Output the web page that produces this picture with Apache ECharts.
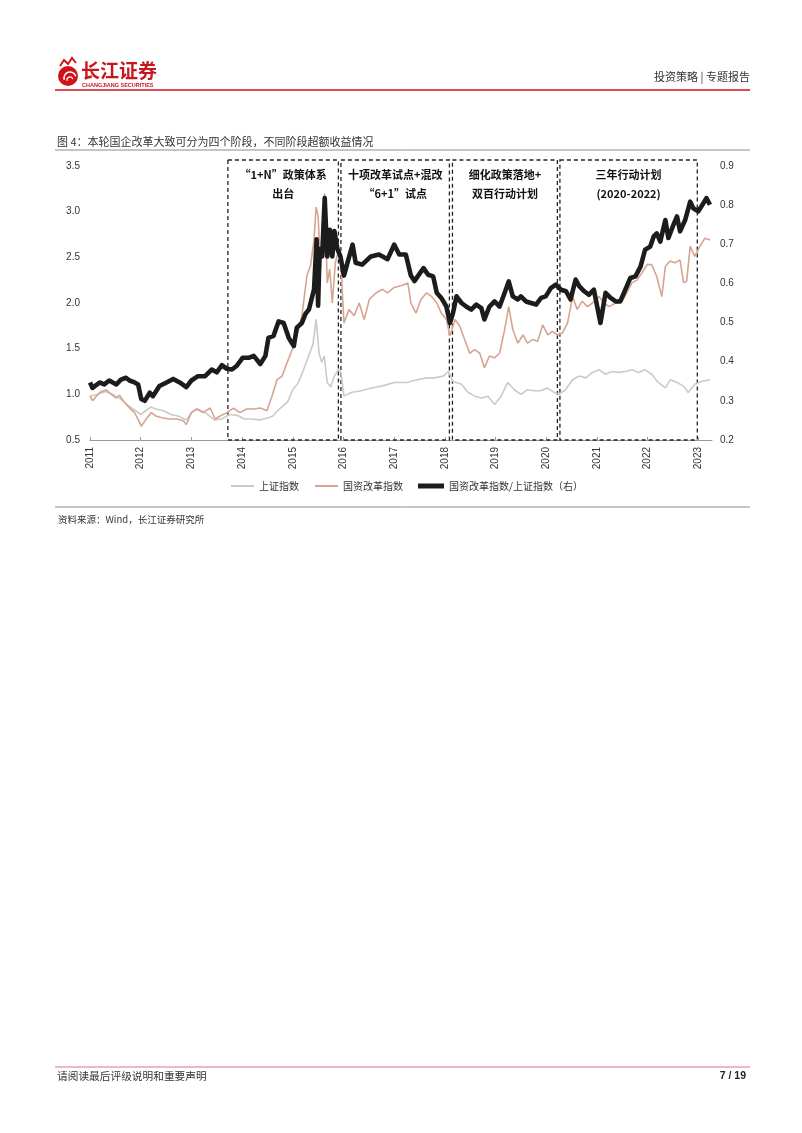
<!DOCTYPE html>
<html>
<head>
<meta charset="utf-8">
<script src="https://cdn.jsdelivr.net/npm/echarts@6/dist/echarts.min.js"></script>
<style>
html,body{margin:0;padding:0;background:#fff;}
#chart{width:802px;height:1133px;}
</style>
</head>
<body>
<div id="chart"></div>
<script>
// ---- data ----
const xTicks = [2011,2012,2013,2014,2015,2016,2017,2018,2019,2020,2021,2022,2023];
const leftTicks = [0.5,1.0,1.5,2.0,2.5,3.0,3.5];
const rightTicks = [0.2,0.3,0.4,0.5,0.6,0.7,0.8,0.9];

// 上证指数 (left axis)
const shIndex = [
[2011.00,0.98],[2011.15,1.00],[2011.30,1.03],[2011.45,1.00],[2011.60,0.95],[2011.75,0.88],[2011.90,0.82],[2012.00,0.78],
[2012.10,0.82],[2012.20,0.86],[2012.30,0.84],[2012.45,0.82],[2012.60,0.78],[2012.75,0.76],[2012.90,0.72],[2013.00,0.80],
[2013.12,0.84],[2013.30,0.79],[2013.45,0.72],[2013.60,0.73],[2013.75,0.78],[2013.90,0.77],[2014.05,0.73],[2014.20,0.73],
[2014.35,0.72],[2014.50,0.74],[2014.60,0.76],[2014.70,0.82],[2014.80,0.87],[2014.90,0.92],[2015.00,1.05],[2015.10,1.12],
[2015.20,1.25],[2015.30,1.40],[2015.40,1.55],[2015.46,1.82],[2015.52,1.45],[2015.57,1.35],[2015.62,1.42],[2015.68,1.13],
[2015.75,1.08],[2015.82,1.20],[2015.90,1.27],[2015.95,1.24],[2016.01,0.98],[2016.15,1.02],[2016.35,1.04],[2016.55,1.07],
[2016.75,1.09],[2017.00,1.13],[2017.25,1.13],[2017.45,1.16],[2017.65,1.18],[2017.80,1.18],[2017.97,1.20],[2018.07,1.25],
[2018.16,1.14],[2018.33,1.11],[2018.46,1.02],[2018.59,0.98],[2018.72,0.96],[2018.85,0.98],[2018.98,0.89],[2019.11,0.98],
[2019.24,1.13],[2019.37,1.05],[2019.50,1.00],[2019.63,1.05],[2019.76,1.04],[2019.89,1.04],[2020.02,1.07],[2020.16,1.02],
[2020.25,1.00],[2020.38,1.05],[2020.52,1.16],[2020.65,1.20],[2020.78,1.18],[2020.91,1.24],[2021.04,1.27],[2021.17,1.22],
[2021.30,1.25],[2021.43,1.24],[2021.56,1.25],[2021.69,1.27],[2021.82,1.24],[2021.95,1.27],[2022.08,1.22],[2022.21,1.13],
[2022.35,1.07],[2022.45,1.16],[2022.58,1.13],[2022.71,1.09],[2022.80,1.02],[2022.93,1.11],[2023.06,1.14],[2023.23,1.16]
];

// 国资改革指数 (left axis)
const soeIndex = [
[2011.00,0.98],[2011.05,0.93],[2011.19,1.02],[2011.32,1.05],[2011.42,1.00],[2011.52,0.96],[2011.58,0.99],[2011.68,0.91],
[2011.78,0.85],[2011.88,0.80],[2011.98,0.69],[2012.01,0.65],[2012.11,0.73],[2012.21,0.80],[2012.31,0.76],[2012.44,0.74],
[2012.57,0.73],[2012.71,0.73],[2012.84,0.71],[2012.90,0.67],[2013.00,0.80],[2013.10,0.84],[2013.23,0.80],[2013.37,0.85],
[2013.47,0.73],[2013.56,0.76],[2013.70,0.80],[2013.83,0.85],[2013.96,0.80],[2014.09,0.84],[2014.23,0.84],[2014.36,0.85],
[2014.49,0.82],[2014.59,0.98],[2014.69,1.16],[2014.79,1.20],[2014.89,1.35],[2014.99,1.49],[2015.08,1.64],[2015.18,1.86],
[2015.28,2.30],[2015.35,2.41],[2015.42,2.70],[2015.46,3.05],[2015.50,2.95],[2015.55,2.37],[2015.60,2.99],[2015.63,3.20],
[2015.68,2.22],[2015.73,2.37],[2015.78,2.00],[2015.84,2.44],[2015.89,2.55],[2015.94,2.51],[2016.01,1.78],[2016.11,1.93],
[2016.21,1.86],[2016.31,2.00],[2016.41,1.82],[2016.51,2.04],[2016.64,2.11],[2016.77,2.15],[2016.87,2.11],[2017.00,2.17],
[2017.13,2.19],[2017.27,2.22],[2017.33,2.00],[2017.43,1.89],[2017.53,2.04],[2017.64,2.11],[2017.74,2.07],[2017.84,2.00],
[2017.93,1.89],[2018.03,1.82],[2018.10,1.64],[2018.20,1.82],[2018.29,1.75],[2018.39,1.60],[2018.49,1.45],[2018.59,1.49],
[2018.69,1.45],[2018.78,1.29],[2018.88,1.42],[2018.98,1.40],[2019.08,1.45],[2019.18,1.71],[2019.26,1.96],[2019.34,1.71],
[2019.44,1.56],[2019.54,1.65],[2019.63,1.56],[2019.73,1.60],[2019.83,1.58],[2019.93,1.76],[2020.03,1.65],[2020.12,1.69],
[2020.22,1.65],[2020.32,1.67],[2020.42,1.78],[2020.52,2.07],[2020.61,1.93],[2020.71,2.02],[2020.81,1.96],[2020.91,2.00],
[2021.04,2.07],[2021.14,2.00],[2021.24,1.96],[2021.37,2.00],[2021.50,2.02],[2021.59,2.11],[2021.69,2.22],[2021.79,2.25],
[2021.89,2.33],[2021.99,2.42],[2022.08,2.42],[2022.18,2.29],[2022.28,2.07],[2022.35,2.40],[2022.44,2.46],[2022.54,2.44],
[2022.64,2.47],[2022.71,2.22],[2022.77,2.24],[2022.84,2.62],[2022.93,2.51],[2023.03,2.62],[2023.13,2.71],[2023.23,2.69]
];

// 国资改革指数/上证指数 (right axis)
const ratio = [
[2011.00,0.347],[2011.05,0.333],[2011.19,0.347],[2011.28,0.342],[2011.38,0.352],[2011.52,0.342],[2011.61,0.354],[2011.71,0.359],
[2011.78,0.352],[2011.88,0.347],[2011.95,0.342],[2012.01,0.305],[2012.08,0.300],[2012.18,0.321],[2012.24,0.312],[2012.37,0.338],
[2012.51,0.347],[2012.64,0.356],[2012.77,0.347],[2012.90,0.335],[2013.00,0.352],[2013.13,0.363],[2013.27,0.363],[2013.40,0.380],
[2013.50,0.373],[2013.60,0.391],[2013.70,0.382],[2013.80,0.380],[2013.89,0.389],[2014.01,0.410],[2014.13,0.410],[2014.23,0.415],
[2014.36,0.394],[2014.46,0.415],[2014.52,0.461],[2014.62,0.466],[2014.72,0.503],[2014.82,0.499],[2014.92,0.461],[2015.02,0.440],
[2015.08,0.487],[2015.18,0.499],[2015.25,0.522],[2015.32,0.534],[2015.42,0.585],[2015.47,0.713],[2015.50,0.543],[2015.53,0.688],
[2015.58,0.669],[2015.63,0.818],[2015.68,0.669],[2015.73,0.737],[2015.78,0.669],[2015.82,0.734],[2015.88,0.688],[2015.94,0.669],
[2016.01,0.620],[2016.08,0.653],[2016.18,0.699],[2016.24,0.653],[2016.37,0.648],[2016.54,0.669],[2016.70,0.674],[2016.87,0.662],
[2017.00,0.699],[2017.10,0.674],[2017.23,0.674],[2017.33,0.620],[2017.40,0.606],[2017.53,0.630],[2017.58,0.639],[2017.67,0.622],
[2017.77,0.618],[2017.84,0.576],[2017.93,0.563],[2018.03,0.541],[2018.10,0.499],[2018.16,0.524],[2018.23,0.567],[2018.33,0.550],
[2018.42,0.541],[2018.52,0.533],[2018.62,0.546],[2018.72,0.537],[2018.78,0.508],[2018.88,0.541],[2018.98,0.554],[2019.08,0.541],
[2019.18,0.576],[2019.26,0.605],[2019.34,0.567],[2019.44,0.559],[2019.50,0.567],[2019.60,0.554],[2019.70,0.550],[2019.80,0.546],
[2019.90,0.563],[2019.99,0.567],[2020.09,0.588],[2020.19,0.597],[2020.29,0.584],[2020.39,0.580],[2020.48,0.559],[2020.58,0.610],
[2020.65,0.593],[2020.75,0.580],[2020.84,0.571],[2020.94,0.584],[2021.07,0.499],[2021.17,0.576],[2021.27,0.563],[2021.37,0.554],
[2021.46,0.554],[2021.56,0.584],[2021.66,0.614],[2021.76,0.618],[2021.86,0.643],[2021.95,0.686],[2022.05,0.694],[2022.12,0.720],
[2022.18,0.728],[2022.25,0.707],[2022.35,0.762],[2022.41,0.716],[2022.51,0.750],[2022.58,0.771],[2022.64,0.733],[2022.74,0.762],
[2022.84,0.809],[2022.90,0.792],[2023.00,0.784],[2023.10,0.805],[2023.16,0.818],[2023.23,0.801]
];

// policy phases (dashed boxes)
const phaseStart = [2013.72, 2015.95, 2018.15, 2020.27];
const phaseEnd   = [2015.90, 2018.09, 2020.22, 2022.98];
const phaseLabels = ['“1+N”政策体系\n出台', '十项改革试点+混改\n“6+1”试点', '细化政策落地+\n双百行动计划', '三年行动计划\n(2020-2022)'];

const seriesNames = ['上证指数', '国资改革指数', '国资改革指数/上证指数（右）'];

// ---- chart ----
const FONT = '"Liberation Sans", Arial, "Noto Sans CJK SC", sans-serif';
const CJK = '"Noto Sans CJK SC", "Liberation Sans", sans-serif';
const chart = echarts.init(document.getElementById('chart'), null, {renderer: 'canvas'});

const phaseData = phaseStart.map((s, i) => [s, phaseEnd[i], i]);
const legendText = {fontSize: 10, color: '#333', fontFamily: CJK};

const option = {
  backgroundColor: '#ffffff',
  animation: false,
  textStyle: {fontFamily: FONT},
  grid: {left: 90, top: 166, width: 622, height: 274, containLabel: false},
  xAxis: {
    type: 'value', min: 2011, max: 2023.27, interval: 1,
    axisLine: {show: true, lineStyle: {color: '#9a9a9a', width: 1}},
    axisTick: {show: true, inside: true, length: 3, lineStyle: {color: '#9a9a9a'}},
    splitLine: {show: false},
    axisLabel: {
      rotate: 90, margin: 7, fontSize: 10, color: '#333', fontFamily: FONT,
      showMaxLabel: false,
      formatter: v => (xTicks.indexOf(Math.round(v)) >= 0 && Math.abs(v - Math.round(v)) < 1e-6) ? String(Math.round(v)) : ''
    }
  },
  yAxis: [
    {
      type: 'value', min: leftTicks[0], max: leftTicks[leftTicks.length - 1], interval: 0.5,
      axisLine: {show: false}, axisTick: {show: false}, splitLine: {show: false},
      axisLabel: {fontSize: 10, color: '#333', margin: 10, fontFamily: FONT, formatter: v => v.toFixed(1)}
    },
    {
      type: 'value', position: 'right', min: rightTicks[0], max: rightTicks[rightTicks.length - 1], interval: 0.1,
      axisLine: {show: false}, axisTick: {show: false}, splitLine: {show: false},
      axisLabel: {fontSize: 10, color: '#333', margin: 8, fontFamily: FONT, formatter: v => v.toFixed(1)}
    }
  ],
  legend: [
    {data: [seriesNames[0]], left: 231, top: 481, padding: 0, icon: 'rect', itemWidth: 23, itemHeight: 2, textStyle: legendText},
    {data: [seriesNames[1]], left: 315, top: 481, padding: 0, icon: 'rect', itemWidth: 23, itemHeight: 2, textStyle: legendText},
    {data: [seriesNames[2]], left: 418, top: 481, padding: 0, icon: 'rect', itemWidth: 26, itemHeight: 5, textStyle: legendText}
  ],
  series: [
    {
      type: 'custom', name: 'phases', xAxisIndex: 0, yAxisIndex: 0, z: 1, silent: true,
      data: phaseData, encode: {x: [0, 1]},
      renderItem: function (params, api) {
        const x1 = api.coord([api.value(0), 0.5])[0];
        const x2 = api.coord([api.value(1), 0.5])[0];
        const yb = api.coord([2011, 0.5])[1];
        const yt = params.coordSys.y - 6;
        const idx = api.value(2);
        return {
          type: 'group',
          children: [
            {type: 'rect', shape: {x: x1, y: yt, width: x2 - x1, height: yb - yt},
             style: {fill: 'none', stroke: '#222', lineWidth: 1.3, lineDash: [4, 3]}},
            {type: 'text', style: {text: phaseLabels[idx], x: (x1 + x2) / 2, y: yt + 5,
              align: 'center', verticalAlign: 'top', fill: '#111',
              font: 'bold 11px "Noto Sans CJK SC", "Liberation Sans", sans-serif', lineHeight: 19}}
          ]
        };
      }
    },
    {name: seriesNames[0], type: 'line', yAxisIndex: 0, data: shIndex, showSymbol: false, symbol: 'none', z: 2,
     lineStyle: {color: '#cacaca', width: 1.6}, itemStyle: {color: '#cacaca'}},
    {name: seriesNames[1], type: 'line', yAxisIndex: 0, data: soeIndex, showSymbol: false, symbol: 'none', z: 3,
     lineStyle: {color: '#d6a590', width: 1.6}, itemStyle: {color: '#d6a590'}},
    {name: seriesNames[2], type: 'line', yAxisIndex: 1, data: ratio, showSymbol: false, symbol: 'none', z: 4,
     lineStyle: {color: '#1c1c1c', width: 4.6, join: 'round'}, itemStyle: {color: '#1c1c1c'}}
  ],
  graphic: [
    // logo
    {type: 'circle', shape: {cx: 68, cy: 76, r: 10}, style: {fill: '#d0121b'}},
    {type: 'arc', shape: {cx: 70, cy: 78, r: 6, startAngle: Math.PI * 0.9, endAngle: Math.PI * 1.9}, style: {stroke: '#fff', lineWidth: 1.5, fill: 'none'}},
    {type: 'arc', shape: {cx: 70, cy: 80, r: 3, startAngle: Math.PI * 0.9, endAngle: Math.PI * 1.9}, style: {stroke: '#fff', lineWidth: 1.2, fill: 'none'}},
    {type: 'polyline', shape: {points: [[60, 66], [64, 60], [68, 64], [72, 58], [76, 63]]}, style: {stroke: '#d0121b', lineWidth: 2, fill: 'none'}},
    {type: 'text', left: 81, top: 61, style: {text: '长江证券', fill: '#c8161d', font: 'bold 19px "Noto Sans CJK SC", sans-serif'}},
    {type: 'text', left: 82, top: 82, style: {text: 'CHANGJIANG SECURITIES', fill: '#c8161d', font: 'bold 5.5px "Liberation Sans", sans-serif'}},
    // header right
    {type: 'text', right: 52, top: 71, style: {text: '投资策略 | 专题报告', fill: '#333', font: '11px "Noto Sans CJK SC", sans-serif'}},
    {type: 'line', shape: {x1: 55, y1: 90, x2: 750, y2: 90}, style: {stroke: '#d0121b', lineWidth: 1.6}},
    // caption
    {type: 'text', left: 57, top: 136, style: {text: '图 4：本轮国企改革大致可分为四个阶段，不同阶段超额收益情况', fill: '#333', font: '11px "Noto Sans CJK SC", sans-serif'}},
    {type: 'line', shape: {x1: 55, y1: 150, x2: 750, y2: 150}, style: {stroke: '#8c8c8c', lineWidth: 1}},
    // source
    {type: 'line', shape: {x1: 55, y1: 507, x2: 750, y2: 507}, style: {stroke: '#8c8c8c', lineWidth: 1}},
    {type: 'text', left: 58, top: 515, style: {text: '资料来源：Wind，长江证券研究所', fill: '#333', font: '9.5px "Noto Sans CJK SC", sans-serif'}},
    // footer
    {type: 'line', shape: {x1: 55, y1: 1067, x2: 750, y2: 1067}, style: {stroke: '#e8a2a8', lineWidth: 1.5}},
    {type: 'text', left: 57, top: 1071, style: {text: '请阅读最后评级说明和重要声明', fill: '#333', font: '10.7px "Noto Sans CJK SC", sans-serif'}},
    {type: 'text', right: 56, top: 1071, style: {text: '7 / 19', fill: '#222', font: 'bold 10.5px "Liberation Sans", sans-serif'}}
  ]
};
chart.setOption(option);
</script>
</body>
</html>
